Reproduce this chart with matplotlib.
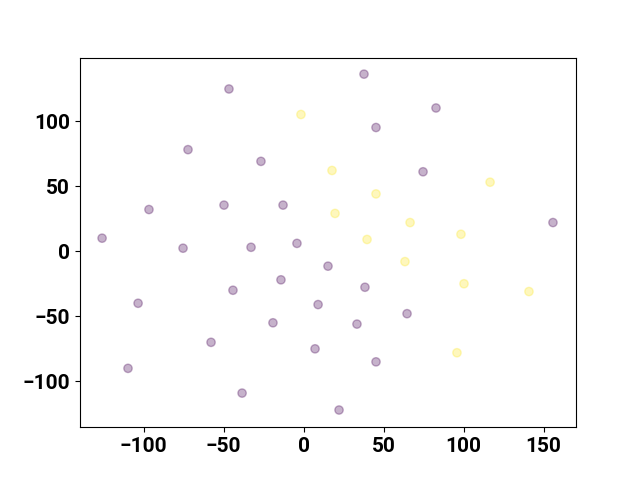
import matplotlib
matplotlib.use("Agg")
import matplotlib.pyplot as plt
import numpy as np

plt.rcParams['font.family'] = ['Roboto', 'DejaVu Sans']

# 第一组（紫色）
x0 = [37.8, -46.6, 82.8, 45.3, -72.2, -26.6, 74.7, -96.6, -49.7, -12.8, -125.9, -75.3, -32.8, -4.1,
      155.9, 15.3, -14.1, 38.4, -44.1, -103.4, 9.1, 64.7, -19.1, 33.4, -57.8, 7.2, 45.3, -109.7, -38.4, 22.2]
y0 = [136, 124.6, 110, 95, 78, 69, 61, 32, 35.4, 35.4, 10, 2.3, 3, 6,
      22, -11.5, -22, -27.7, -30, -40, -41, -48, -55, -56, -70, -75, -85, -90, -109, -122]
# 第二组（黄色）
x1 = [-1.6, 17.8, 45.3, 116.6, 19.7, 66.6, 98.4, 39.7, 63.4, 100.3, 140.9, 95.9]
y1 = [105, 62, 44, 53, 29, 22, 13, 9, -8, -25, -31, -78]

x = np.array(x0 + x1)
y = np.array(y0 + y1)
c = np.array([0] * len(x0) + [1] * len(x1))

fig, ax = plt.subplots(figsize=(6.4, 4.8), dpi=100)
ax.scatter(x, y, c=c, cmap='viridis', alpha=0.3)
ax.set_xlim(-139.7, 170.3)
ax.set_ylim(-135.2, 148.7)
ax.set_xticks([-100, -50, 0, 50, 100, 150])
ax.set_yticks([-100, -50, 0, 50, 100])
for lab in ax.get_xticklabels() + ax.get_yticklabels():
    lab.set_fontsize(15)
    lab.set_fontweight('bold')

plt.savefig('out.png')
